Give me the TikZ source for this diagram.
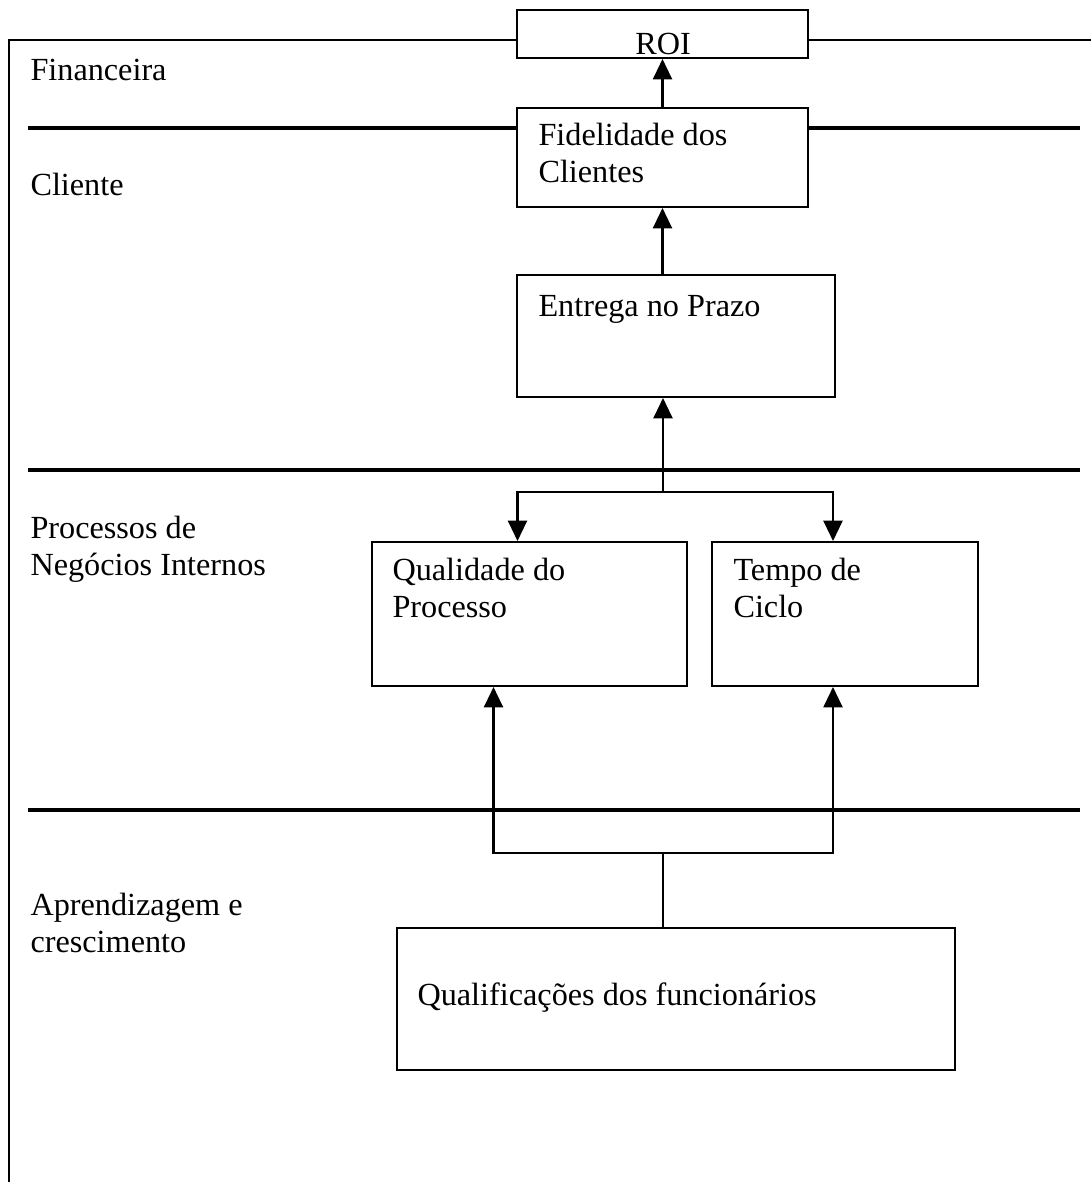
\documentclass[tikz,border=0pt]{standalone}
\usepackage{fontspec}
\setmainfont{Liberation Serif}
\usetikzlibrary{arrows.meta,fit,calc}

\tikzset{
  box/.style={draw, line width=0.8pt, fill=white, inner sep=0pt},
  txt/.style={inner sep=0pt, align=left, font=\fontsize{12.65}{14.5}\selectfont},
  sepline/.style={line width=1.5pt},
  frame/.style={line width=1pt},
  arr/.style={line width=0.8pt, -{Triangle[width=7.5pt,length=8pt]}},
}

\begin{document}
\begin{tikzpicture}[x=0.0138cm, y=-0.0138cm]
	\useasboundingbox (0,0) rectangle (1091,1182);
	% separators between the perspectives
	\draw[sepline] (28,128) -- (1080,128);
	\draw[sepline] (28,470) -- (1080,470);
	\draw[sepline] (28,810) -- (1080,810);
	
	% boxes
	\node[box, fit={(517,10) (808,58)}] (roi) {};
	\node[box, fit={(517,108) (808,207)}] (fid) {};
	\node[box, fit={(517,275) (835,397)}] (ent) {};
	\node[box, fit={(372,542) (687,686)}] (qual) {};
	\node[box, fit={(712,542) (978,686)}] (tempo) {};
	\node[box, fit={(397,928) (955,1070)}] (qf) {};
	
	% frame
	\coordinate (tl) at (9,40);
	\draw[frame] (roi.west |- tl) -- (tl) -- (9,1182);
	\draw[frame] (roi.east |- tl) -- (1091,40);
	
	% texts (base = last line)
	\node[txt, anchor=base] (roitxt) at (663,54) {ROI};
	\node[txt, anchor=base west] (fidtxt) at (538,182) {Fidelidade dos\\Clientes};
	\node[txt, anchor=base west] (enttxt) at (538,316) {Entrega no Prazo};
	\node[txt, anchor=base west] (qualtxt) at (392,617) {Qualidade do\\Processo};
	\node[txt, anchor=base west] (tempotxt) at (733,617) {Tempo de\\Ciclo};
	\node[txt, anchor=base west] (qftxt) at (417,1005) {Qualificações dos funcionários};
	
	\node[txt, anchor=base west] (fin) at (30,80) {Financeira};
	\node[txt, anchor=base west] (cli) at (30,195) {Cliente};
	\node[txt, anchor=base west] (proc) at (30,575) {Processos de\\Negócios Internos};
	\node[txt, anchor=base west] (apr) at (30,952) {Aprendizagem e\\crescimento};
	
	% connectors
	\draw[arr] (fid) -- (roi);
	\draw[arr] (ent.north -| fid.south) -- (fid.south);
	\coordinate (br) at (663,492);
	\draw[arr] (br) -- (ent.south -| br);
	\draw[arr] (br) -| ($(qual.north)+(-12,0)$);
	\draw[arr] (br) -| ($(tempo.north)+(-12,0)$);
	\coordinate (jn) at (663,853);
	\draw[line width=0.8pt] (qf.north -| jn) -- (jn);
	\draw[arr] (jn) -| ($(qual.south)+(-36,0)$);
	\draw[arr] (jn) -| ($(tempo.south)+(-12,0)$);
\end{tikzpicture}
\end{document}
